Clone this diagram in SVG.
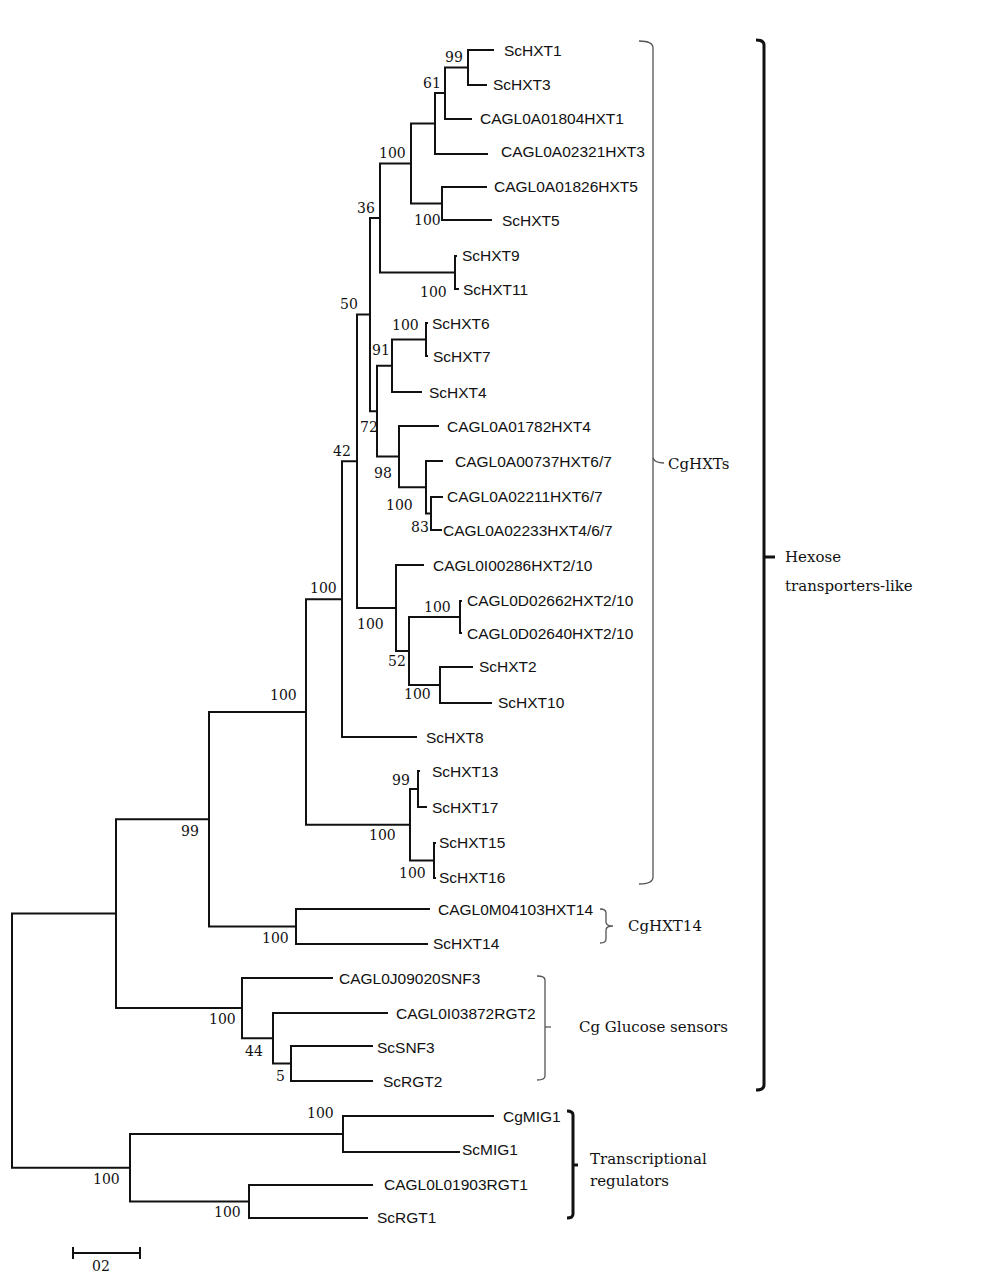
<svg xmlns="http://www.w3.org/2000/svg" width="1000" height="1284" viewBox="0 0 1000 1284">
<style>
.br{fill:none;stroke:#111;stroke-width:2;stroke-linejoin:miter}
.lf{font-family:"Liberation Sans",Arial,sans-serif;font-size:15.5px;fill:#111}
.bs{font-family:"DejaVu Serif","Liberation Serif",serif;font-size:14px;fill:#111}
.cl{font-family:"DejaVu Serif","Liberation Serif",serif;font-size:15px;fill:#111}
.gb{fill:none;stroke:#555;stroke-width:1.3}
.kb{fill:none;stroke:#111;stroke-width:3}
</style>
<rect width="1000" height="1284" fill="#fff"/>
<g id="connectors">
<path class="br" d="M494,50 H468 V85 H487"/>
<path class="br" d="M468,67.5 H445 V119 H472"/>
<path class="br" d="M445,93 H435 V154 H488"/>
<path class="br" d="M487,187 H442 V220 H492"/>
<path class="br" d="M435,123.5 H411 V203.5 H442"/>
<path class="br" d="M457,256 H455 V289 H459"/>
<path class="br" d="M411,163.5 H380 V272.5 H455"/>
<path class="br" d="M428,323 H426 V356 H428"/>
<path class="br" d="M426,339.5 H392 V392 H422"/>
<path class="br" d="M443,497 H431 V530 H442"/>
<path class="br" d="M443,461 H426 V513.5 H431"/>
<path class="br" d="M439,426 H399 V487.25 H426"/>
<path class="br" d="M392,365.75 H377 V456.6 H399"/>
<path class="br" d="M380,218 H370 V411.2 H377"/>
<path class="br" d="M462,601 H460 V633 H462"/>
<path class="br" d="M473,667 H440 V703 H492"/>
<path class="br" d="M460,617 H409 V685 H440"/>
<path class="br" d="M424,565 H396 V651 H409"/>
<path class="br" d="M370,314.6 H357 V608 H396"/>
<path class="br" d="M357,461.3 H342 V737 H417"/>
<path class="br" d="M420,771 H418 V807 H427"/>
<path class="br" d="M436,843 H434 V878 H436"/>
<path class="br" d="M418,789 H410 V860.5 H434"/>
<path class="br" d="M342,599.2 H306 V824.75 H410"/>
<path class="br" d="M430,909 H296 V944 H428"/>
<path class="br" d="M306,712 H209 V926.5 H296"/>
<path class="br" d="M373,1046 H291 V1081 H373"/>
<path class="br" d="M388,1013 H273 V1063.5 H291"/>
<path class="br" d="M333,978 H242 V1038.25 H273"/>
<path class="br" d="M209,819.25 H116 V1008 H242"/>
<path class="br" d="M494,1116 H343 V1152 H460"/>
<path class="br" d="M373,1185 H249 V1218 H368"/>
<path class="br" d="M343,1134 H130 V1201.5 H249"/>
<path class="br" d="M116,913.6 H12 V1167.75 H130"/>
</g>
<g id="leaves">
<g id="leaf-ScHXT1"><text class="lf" x="504" y="55.5">ScHXT1</text></g>
<g id="leaf-ScHXT3"><text class="lf" x="493" y="89.5">ScHXT3</text></g>
<g id="leaf-CAGL0A01804HXT1"><text class="lf" x="480" y="124">CAGL0A01804HXT1</text></g>
<g id="leaf-CAGL0A02321HXT3"><text class="lf" x="501" y="157">CAGL0A02321HXT3</text></g>
<g id="leaf-CAGL0A01826HXT5"><text class="lf" x="494" y="192">CAGL0A01826HXT5</text></g>
<g id="leaf-ScHXT5"><text class="lf" x="502" y="225.5">ScHXT5</text></g>
<g id="leaf-ScHXT9"><text class="lf" x="462" y="261">ScHXT9</text></g>
<g id="leaf-ScHXT11"><text class="lf" x="463" y="295">ScHXT11</text></g>
<g id="leaf-ScHXT6"><text class="lf" x="432" y="329">ScHXT6</text></g>
<g id="leaf-ScHXT7"><text class="lf" x="433" y="362">ScHXT7</text></g>
<g id="leaf-ScHXT4"><text class="lf" x="429" y="398">ScHXT4</text></g>
<g id="leaf-CAGL0A01782HXT4"><text class="lf" x="447" y="432">CAGL0A01782HXT4</text></g>
<g id="leaf-CAGL0A00737HXT6-7"><text class="lf" x="455" y="467">CAGL0A00737HXT6/7</text></g>
<g id="leaf-CAGL0A02211HXT6-7"><text class="lf" x="447" y="502">CAGL0A02211HXT6/7</text></g>
<g id="leaf-CAGL0A02233HXT4-6-7"><text class="lf" x="443" y="535.5">CAGL0A02233HXT4/6/7</text></g>
<g id="leaf-CAGL0I00286HXT2-10"><text class="lf" x="433" y="570.5">CAGL0I00286HXT2/10</text></g>
<g id="leaf-CAGL0D02662HXT2-10"><text class="lf" x="467" y="606">CAGL0D02662HXT2/10</text></g>
<g id="leaf-CAGL0D02640HXT2-10"><text class="lf" x="467" y="639">CAGL0D02640HXT2/10</text></g>
<g id="leaf-ScHXT2"><text class="lf" x="479" y="672">ScHXT2</text></g>
<g id="leaf-ScHXT10"><text class="lf" x="498" y="708">ScHXT10</text></g>
<g id="leaf-ScHXT8"><text class="lf" x="426" y="742.5">ScHXT8</text></g>
<g id="leaf-ScHXT13"><text class="lf" x="432" y="777">ScHXT13</text></g>
<g id="leaf-ScHXT17"><text class="lf" x="432" y="812.5">ScHXT17</text></g>
<g id="leaf-ScHXT15"><text class="lf" x="439" y="848">ScHXT15</text></g>
<g id="leaf-ScHXT16"><text class="lf" x="439" y="883">ScHXT16</text></g>
<g id="leaf-CAGL0M04103HXT14"><text class="lf" x="438" y="915">CAGL0M04103HXT14</text></g>
<g id="leaf-ScHXT14"><text class="lf" x="433" y="949">ScHXT14</text></g>
<g id="leaf-CAGL0J09020SNF3"><text class="lf" x="339" y="983.5">CAGL0J09020SNF3</text></g>
<g id="leaf-CAGL0I03872RGT2"><text class="lf" x="396" y="1018.5">CAGL0I03872RGT2</text></g>
<g id="leaf-ScSNF3"><text class="lf" x="377" y="1052.5">ScSNF3</text></g>
<g id="leaf-ScRGT2"><text class="lf" x="383" y="1086.5">ScRGT2</text></g>
<g id="leaf-CgMIG1"><text class="lf" x="503" y="1121.5">CgMIG1</text></g>
<g id="leaf-ScMIG1"><text class="lf" x="462" y="1155">ScMIG1</text></g>
<g id="leaf-CAGL0L01903RGT1"><text class="lf" x="384" y="1189.5">CAGL0L01903RGT1</text></g>
<g id="leaf-ScRGT1"><text class="lf" x="377" y="1223">ScRGT1</text></g>
</g>
<g id="bootstrap">
<text class="bs" x="445" y="62">99</text>
<text class="bs" x="423" y="88">61</text>
<text class="bs" x="379" y="158">100</text>
<text class="bs" x="414" y="225">100</text>
<text class="bs" x="357" y="213">36</text>
<text class="bs" x="420" y="297">100</text>
<text class="bs" x="340" y="309">50</text>
<text class="bs" x="392" y="330">100</text>
<text class="bs" x="372" y="355">91</text>
<text class="bs" x="360" y="432">72</text>
<text class="bs" x="374" y="478">98</text>
<text class="bs" x="386" y="510">100</text>
<text class="bs" x="411" y="532">83</text>
<text class="bs" x="333" y="456">42</text>
<text class="bs" x="310" y="593">100</text>
<text class="bs" x="357" y="629">100</text>
<text class="bs" x="424" y="612">100</text>
<text class="bs" x="388" y="666">52</text>
<text class="bs" x="404" y="699">100</text>
<text class="bs" x="392" y="785">99</text>
<text class="bs" x="369" y="840">100</text>
<text class="bs" x="399" y="878">100</text>
<text class="bs" x="270" y="700">100</text>
<text class="bs" x="181" y="836">99</text>
<text class="bs" x="262" y="943">100</text>
<text class="bs" x="209" y="1024">100</text>
<text class="bs" x="245" y="1056">44</text>
<text class="bs" x="276" y="1081">5</text>
<text class="bs" x="307" y="1118">100</text>
<text class="bs" x="93" y="1184">100</text>
<text class="bs" x="214" y="1217">100</text>
</g>
<g id="clade-CgHXTs">
<path class="gb" d="M639,41 Q653,41 653,48 V877 Q653,884 639,884"/>
<path class="gb" d="M653,458 Q655,463 664,463"/>
<text class="cl" x="668" y="469">CgHXTs</text>
</g>
<g id="clade-CgHXT14">
<path class="gb" d="M600,909 Q606,909 606,913 V922 Q606,926 613,926 Q606,926 606,930 V939 Q606,943 600,943"/>
<text class="cl" x="628" y="931">CgHXT14</text>
</g>
<g id="clade-glucose-sensors">
<path class="gb" d="M537,976 Q545,976 545,980 V1076 Q545,1080 537,1080"/>
<path class="gb" d="M545,1027 H551"/>
<text class="cl" x="579" y="1032">Cg Glucose sensors</text>
</g>
<g id="clade-hexose">
<path class="kb" d="M756,40 Q764,40 764,45 V1085 Q764,1090 756,1090"/>
<path class="kb" d="M764,557 H775"/>
<text class="cl" x="785" y="562">Hexose</text>
<text class="cl" x="785" y="591">transporters-like</text>
</g>
<g id="clade-transcriptional">
<path class="kb" d="M567,1111 Q573,1111 573,1115 V1214 Q573,1218 567,1218"/>
<path class="kb" d="M573,1165 H578"/>
<text class="cl" x="590" y="1164">Transcriptional</text>
<text class="cl" x="590" y="1186">regulators</text>
</g>
<g id="scale-bar">
<path class="br" d="M73,1253 H140 M73,1247 V1259 M140,1247 V1259"/>
<text class="bs" x="92" y="1271">02</text>
</g>
</svg>
